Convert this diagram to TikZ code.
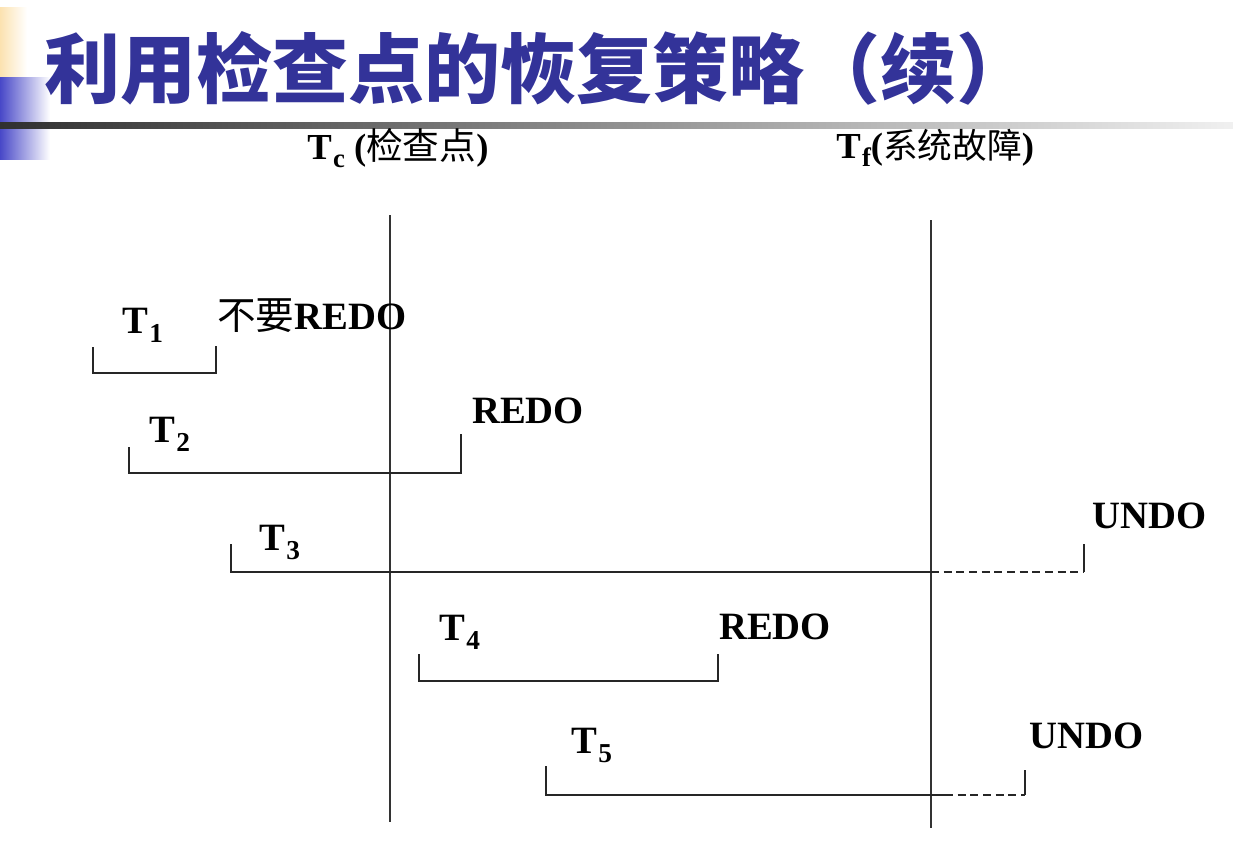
\documentclass[tikz,border=0pt]{standalone}
\usepackage{fontspec}
\setmainfont{Liberation Serif}
\newfontfamily\cjk{Noto Sans CJK SC}
\newfontfamily\titlefont{Noto Sans CJK SC}
\definecolor{titleblue}{HTML}{333399}
\definecolor{decoyellow}{RGB}{252,226,176}
\definecolor{decoblue}{RGB}{72,72,200}
\definecolor{decodark}{RGB}{48,48,48}
\definecolor{decolight}{RGB}{240,240,240}
\newcommand\Tsb[1]{T\hspace{1pt}\raisebox{-7pt}{\fontsize{20.5}{21}\selectfont #1}}
\tikzset{
  lbl/.style={anchor=base west, inner sep=0pt, font=\bfseries\fontsize{29}{30}\selectfont},
  hlbl/.style={anchor=base west, inner sep=0pt, font=\bfseries\fontsize{27.5}{28}\selectfont},
  tline/.style={line width=1.3pt, draw=black!85},
  vline/.style={line width=1.2pt, draw=black!80},
  dline/.style={line width=1.3pt, draw=black!85, dash pattern=on 6pt off 3.5pt},
}
\begin{document}
\begin{tikzpicture}[x=0.75pt,y=-0.75pt]
\useasboundingbox (0,0) rectangle (1233,861);
% decoration
\shade[left color=decoyellow, right color=white] (0,7) rectangle (27,77);
\shade[left color=decoblue, right color=white] (0,77) rectangle (50,159);
\shade[left color=decodark, right color=decolight] (0,122) rectangle (1233,128);
% title
\node[anchor=base west, inner sep=0pt, text=titleblue, font=\titlefont\bfseries\fontsize{57}{57}\selectfont] (title) at (44,97) {利用检查点的恢复策略（续）};
% header labels
\node[hlbl] (tc) at (307,159) {T\hspace{1pt}\raisebox{-6.5pt}{\fontsize{20}{20}\selectfont c} ({\cjk\mdseries 检查点})};
\node[hlbl] (tf) at (836,158) {T\hspace{1pt}\raisebox{-6.5pt}{\fontsize{20}{20}\selectfont f}({\cjk\mdseries\fontsize{26}{26}\selectfont 系统故障})};
% vertical lines
\coordinate (tctop) at (390,215);
\coordinate (tcbot) at (390,822);
\coordinate (tftop) at (931,220);
\coordinate (tfbot) at (931,828);
\draw[vline] (tctop) -- (tcbot);
\draw[vline] (tftop) -- (tfbot);
% T1
\coordinate (a1) at (93,347); \coordinate (b1) at (93,373);
\coordinate (c1) at (216,373); \coordinate (d1) at (216,346);
\draw[tline] (a1) -- (b1) -- (c1) -- (d1);
\node[lbl] (t1) at (122,333) {\Tsb{1}};
\node[lbl] (r1) at (217,329) {{\cjk\mdseries 不要}REDO};
% T2
\coordinate (a2) at (129,447); \coordinate (b2) at (129,473);
\coordinate (c2) at (461,473); \coordinate (d2) at (461,434);
\draw[tline] (a2) -- (b2) -- (c2) -- (d2);
\node[lbl] (t2) at (149,442) {\Tsb{2}};
\node[lbl] (r2) at (472,423) {REDO};
% T3
\coordinate (a3) at (231,544); \coordinate (b3) at (231,572);
\coordinate (m3) at (931,572);
\coordinate (c3) at (1084,572); \coordinate (d3) at (1084,544);
\draw[tline] (a3) -- (b3) -- (m3);
\draw[dline] (m3) -- (c3);
\draw[tline] (c3) -- (d3);
\node[lbl] (t3) at (259,550) {\Tsb{3}};
\node[lbl] (r3) at (1092,528) {UNDO};
% T4
\coordinate (a4) at (419,654); \coordinate (b4) at (419,681);
\coordinate (c4) at (718,681); \coordinate (d4) at (718,654);
\draw[tline] (a4) -- (b4) -- (c4) -- (d4);
\node[lbl] (t4) at (439,640) {\Tsb{4}};
\node[lbl] (r4) at (719,639) {REDO};
% T5
\coordinate (a5) at (546,766); \coordinate (b5) at (546,795);
\coordinate (m5) at (945,795);
\coordinate (c5) at (1025,795); \coordinate (d5) at (1025,770);
\draw[tline] (a5) -- (b5) -- (m5);
\draw[dline] (m5) -- (c5);
\draw[tline] (c5) -- (d5);
\node[lbl] (t5) at (571,753) {\Tsb{5}};
\node[lbl] (r5) at (1029,748) {UNDO};
\end{tikzpicture}
\end{document}
